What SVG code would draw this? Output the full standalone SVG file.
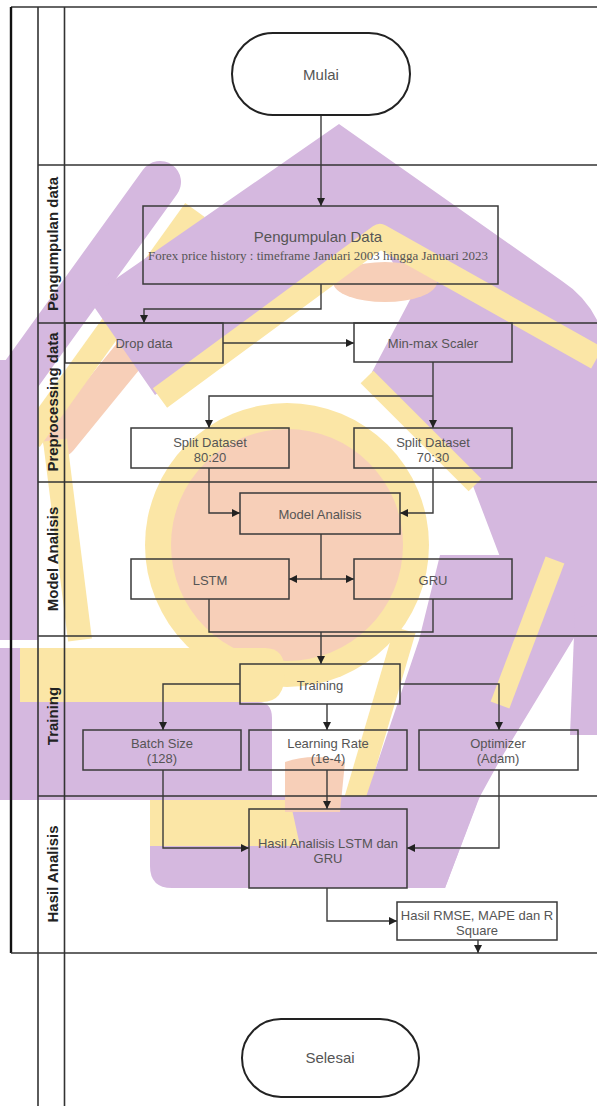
<svg xmlns="http://www.w3.org/2000/svg" width="597" height="1106" viewBox="0 0 597 1106">
<defs>
<style>
.frame{stroke:#333;stroke-width:1.6;fill:none}
.outer{stroke:#111;stroke-width:2.4;fill:none}
.box{fill:none;stroke:#3a3a3a;stroke-width:1.5}
.term{fill:none;stroke:#222;stroke-width:2}
.t{font-family:"Liberation Sans",Arial,sans-serif;font-size:13px;fill:#555;text-anchor:middle;dominant-baseline:central}
.big{font-size:15px}
.lane{font-family:"Liberation Sans",Arial,sans-serif;font-size:15px;font-weight:bold;fill:#222;text-anchor:middle;dominant-baseline:central}
.sub{font-family:"Liberation Serif","Times New Roman",serif;font-size:11.5px;fill:#555;text-anchor:middle;dominant-baseline:central}
.c{fill:none;stroke:#3a3a3a;stroke-width:1.4}
.ca{fill:none;stroke:#3a3a3a;stroke-width:1.4;marker-end:url(#ah)}
.pu{fill:#d5b8df}
.ye{fill:#fbe6a6}
.pe{fill:#f7cfb8}
.spu{fill:none;stroke:#d5b8df;stroke-linecap:round;stroke-linejoin:round}
.sye{fill:none;stroke:#fbe6a6;stroke-linejoin:round}
.spe{fill:none;stroke:#f7cfb8;stroke-linecap:round}
</style>
<marker id="ah" viewBox="0 0 10 10" refX="10" refY="5" markerWidth="8" markerHeight="8" markerUnits="userSpaceOnUse" orient="auto">
<path d="M0,0 L10,5 L0,10 z" fill="#222"/>
</marker>
</defs>
<rect width="597" height="1106" fill="#fff"/>
<g id="watermark">
<path class="spe" d="M215,250 L60,440" stroke-width="34"/>
<path class="sye" d="M195,210 L30,440" stroke-width="24"/>
<path class="spu" d="M160,182 L10,390" stroke-width="42"/>
<rect class="pu" x="0" y="360" width="38" height="280"/>
<path class="sye" d="M55,440 L80,640" stroke-width="24"/>
<path class="pu" d="M339,124 L562,281 Q585,296 597,320 L597,640 L505,570 L470,478 L372,372 L412,296 L380,240 L155,395 L88,298 Z"/>
<ellipse class="pe" cx="385" cy="282" rx="52" ry="20"/>
<path class="sye" d="M160,398 L380,236 L597,358" stroke-width="24"/>
<path class="sye" d="M367,377 L475,485" stroke-width="18"/>
<circle class="ye" cx="287" cy="545" r="142"/>
<circle class="pe" cx="287" cy="545" r="116"/>
<path class="sye" d="M405,630 L355,800" stroke-width="22"/>
<path class="pu" d="M440,555 L597,555 L597,600 L500,760 L478,800 L445,888 L330,888 L365,800 L419,640 Z"/>
<path class="pu" d="M575,610 L597,600 L597,735 L570,735 Z"/>
<path class="sye" d="M555,560 L500,705" stroke-width="20"/>
<path class="ye" d="M20,648 H265 Q285,648 285,672 Q285,702 262,702 H20 Z"/>
<path class="pu" d="M0,648 H20 V702 H258 Q272,702 272,718 V800 H0 Z"/>
<path class="pu" d="M150,796 H480 L445,888 H172 Q150,888 150,866 Z"/>
<path class="ye" d="M150,800 H290 L300,846 H150 Z"/>
<path class="pe" d="M285,762 Q315,752 345,762 L340,812 H285 Z"/>
</g>
<g id="frame">
<line class="frame" x1="11" y1="7" x2="597" y2="7"/>
<line class="outer" x1="11" y1="7" x2="11" y2="953"/>
<line class="frame" x1="38" y1="7" x2="38" y2="1106"/>
<line class="frame" x1="64.5" y1="7" x2="64.5" y2="1106"/>
<line class="frame" x1="38" y1="165" x2="597" y2="165"/>
<line class="frame" x1="38" y1="323" x2="597" y2="323"/>
<line class="frame" x1="38" y1="482" x2="597" y2="482"/>
<line class="frame" x1="38" y1="636" x2="597" y2="636"/>
<line class="frame" x1="38" y1="796" x2="597" y2="796"/>
<line class="frame" x1="11" y1="953" x2="597" y2="953"/>
</g>
<g id="lanes">
<text class="lane" transform="translate(52,244) rotate(-90)">Pengumpulan data</text>
<text class="lane" transform="translate(52,402) rotate(-90)">Preprocessing data</text>
<text class="lane" transform="translate(52,559) rotate(-90)">Model Analisis</text>
<text class="lane" transform="translate(52,716) rotate(-90)">Training</text>
<text class="lane" transform="translate(52,874) rotate(-90)">Hasil Analisis</text>
</g>
<g id="connectors">
<path class="ca" d="M321,115 V206"/>
<path class="ca" d="M321,284 V309 H144 V323"/>
<path class="ca" d="M223,343 H354"/>
<path class="ca" d="M433,362 V428"/>
<path class="ca" d="M433,396 H209 V428"/>
<path class="ca" d="M209,468 V513 H240"/>
<path class="ca" d="M433,468 V513 H400"/>
<path class="ca" d="M321,534 V579 H289"/>
<path class="ca" d="M321,579 H354"/>
<path class="c" d="M209,599 V632 H433 V599"/>
<path class="ca" d="M321,632 V664"/>
<path class="ca" d="M240,684 H163 V730"/>
<path class="ca" d="M327,704 V730"/>
<path class="ca" d="M400,684 H499 V730"/>
<path class="ca" d="M163,770 V848 H249"/>
<path class="ca" d="M327,770 V809"/>
<path class="ca" d="M499,770 V848 H407"/>
<path class="ca" d="M327,888 V921 H397"/>
<path class="ca" d="M478,940 V953"/>
</g>
<g id="mulai">
<rect class="term" x="232" y="33" width="178" height="82" rx="41" ry="41"/>
<text class="t big" x="321" y="74">Mulai</text>
</g>
<g id="pengumpulan">
<rect class="box" x="143" y="206" width="355" height="78"/>
<text class="t big" x="318" y="236">Pengumpulan Data</text>
<text class="sub" x="318" y="256" textLength="340" lengthAdjust="spacingAndGlyphs">Forex price history : timeframe Januari 2003 hingga Januari 2023</text>
</g>
<g id="drop">
<rect class="box" x="65" y="323" width="158" height="40"/>
<text class="t" x="144" y="343">Drop data</text>
</g>
<g id="minmax">
<rect class="box" x="354" y="323" width="158" height="39"/>
<text class="t" x="433" y="343">Min-max Scaler</text>
</g>
<g id="split8020">
<rect class="box" x="131" y="428" width="158" height="40"/>
<text class="t" x="210" y="442">Split Dataset</text>
<text class="t" x="210" y="457">80:20</text>
</g>
<g id="split7030">
<rect class="box" x="354" y="428" width="158" height="40"/>
<text class="t" x="433" y="442">Split Dataset</text>
<text class="t" x="433" y="457">70:30</text>
</g>
<g id="model">
<rect class="box" x="240" y="493" width="160" height="41"/>
<text class="t" x="320" y="514">Model Analisis</text>
</g>
<g id="lstm">
<rect class="box" x="131" y="559" width="158" height="40"/>
<text class="t" x="210" y="580">LSTM</text>
</g>
<g id="gru">
<rect class="box" x="354" y="559" width="158" height="40"/>
<text class="t" x="433" y="580">GRU</text>
</g>
<g id="training">
<rect class="box" x="240" y="664" width="160" height="40"/>
<text class="t" x="320" y="685">Training</text>
</g>
<g id="batch">
<rect class="box" x="83" y="730" width="158" height="40"/>
<text class="t" x="162" y="743">Batch Size</text>
<text class="t" x="162" y="758">(128)</text>
</g>
<g id="lr">
<rect class="box" x="249" y="730" width="158" height="40"/>
<text class="t" x="328" y="743">Learning Rate</text>
<text class="t" x="328" y="758">(1e-4)</text>
</g>
<g id="optimizer">
<rect class="box" x="419" y="730" width="159" height="40"/>
<text class="t" x="498" y="743">Optimizer</text>
<text class="t" x="498" y="758">(Adam)</text>
</g>
<g id="hasil">
<rect class="box" x="249" y="809" width="158" height="79"/>
<text class="t" x="328" y="843">Hasil Analisis LSTM dan</text>
<text class="t" x="328" y="858">GRU</text>
</g>
<g id="rmse">
<rect class="box" x="397" y="902" width="160" height="38"/>
<text class="t" x="477" y="915">Hasil RMSE, MAPE dan R</text>
<text class="t" x="477" y="930">Square</text>
</g>
<g id="selesai">
<rect class="term" x="242" y="1019" width="177" height="78" rx="39" ry="39"/>
<text class="t big" x="330" y="1057">Selesai</text>
</g>
</svg>
